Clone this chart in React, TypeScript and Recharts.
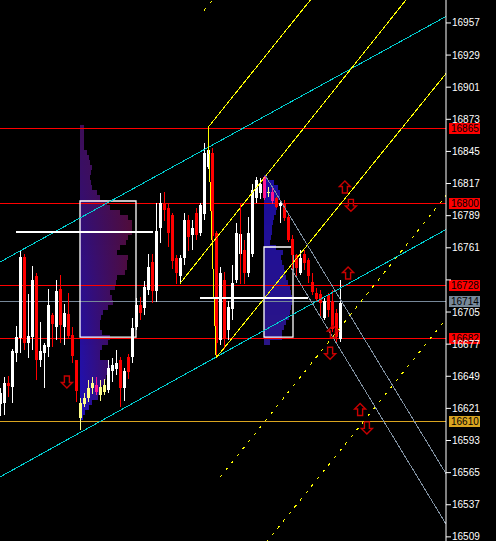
import React from "react";
import { ComposedChart, Bar, Scatter, XAxis, YAxis, ReferenceLine, ReferenceArea } from "recharts";

// OHLC per bar (bar index 0..85)
const opens = [16624,16626,16643,16640,16669,16682,16753,16678,16683,16736, 16663,16669,16674,16702,16692,16725,16692,16703,16685,16663,
  16613,16625,16630,16639,16641,16633,16635,16637,16654,16656, 16663,16639,16666,16666,16692,16711,16709,16724,16749,16724,
  16778,16800,16796,16790,16752,16736,16752,16785,16772,16791, 16774,16791,16831,16844,16774,16681,16733,16689,16707,16733,
  16756,16759,16739,16755,16804,16809,16823,16809,16810,16804, 16797,16800,16788,16769,16755,16739,16756,16750,16731,16722,
  16721,16700,16720,16715,16704,16682]
const closes = [16634,16643,16640,16671,16683,16753,16678,16684,16733,16663, 16671,16676,16711,16694,16723,16694,16704,16684,16667,16636,
  16626,16630,16639,16643,16635,16640,16641,16656,16659,16661, 16639,16654,16653,16691,16711,16704,16727,16744,16724,16776,
  16800,16794,16774,16750,16739,16752,16785,16770,16778,16772, 16798,16844,16846,16772,16678,16739,16682,16709,16730,16774,
  16773,16739,16774,16811,16820,16817,16805,16810,16802,16796, 16800,16787,16768,16755,16744,16752,16748,16736,16722,16717,
  16713,16715,16707,16691,16683,16713]
const highs = [16639,16648,16649,16673,16693,16759,16756,16721,16745,16739, 16696,16678,16725,16704,16733,16737,16712,16722,16692,16663,
  16630,16634,16646,16648,16648,16646,16647,16663,16665,16672, 16666,16656,16668,16700,16717,16718,16732,16756,16756,16800,
  16809,16810,16800,16791,16755,16755,16791,16790,16785,16796, 16800,16852,16852,16848,16776,16744,16740,16715,16746,16783,
  16778,16768,16788,16817,16823,16822,16824,16814,16813,16805, 16802,16803,16791,16772,16756,16759,16759,16752,16739,16726,
  16724,16717,16722,16724,16708,16733]
const lows = [16615,16615,16631,16626,16662,16669,16672,16665,16672,16646, 16657,16639,16666,16674,16681,16678,16676,16683,16661,16626,
  16602,16622,16627,16633,16632,16628,16633,16634,16644,16650, 16622,16627,16646,16661,16689,16698,16702,16720,16713,16714,
  16765,16785,16762,16742,16730,16730,16746,16759,16759,16768, 16771,16785,16829,16768,16666,16676,16673,16681,16698,16731,
  16749,16730,16736,16753,16800,16804,16803,16805,16799,16795, 16783,16785,16766,16742,16736,16737,16742,16730,16720,16714,
  16701,16698,16701,16687,16679,16679]

// bars highlighted by the profile session
const yellowBars = [20, 21, 22, 23, 25, 26, 67]
const pinkBars = [24, 66, 68]

const priceTicks = [16509, 16537, 16565, 16593, 16621, 16649, 16677, 16705, 16733, 16761, 16789, 16817, 16845, 16873, 16901, 16929, 16957]
const hiddenTickLabels = [16733] // covered by the 16728 tag

// horizontal levels
const levels = [16865, 16800, 16728, 16714, 16682, 16610]
const levelColors = ["#ff0000", "#ff0000", "#ff0000", "#778899", "#ff0000", "#daa520"]

// volume profiles: start bar, top price, bin size, volumes (top to bottom)
const leftProfileStart = 19.875
const leftProfileTop = 16868
const rightProfileStart = 65.875
const rightProfileTop = 16824.4
const profileBin = 4.36
const leftProfileVol = [4,4,4,4,4,7,9,10,12,11,10,11,12,17,20,27,30,40,48,52,52,52,48,46,40,37,48,47,47,45,37,36,35,30,32,33,28,23,21,20,20,22,30,28,22,20,20,28,30,27,26,24,22,20,18,12,9,5,3]
const rightProfileVol = [3,10,14,16,16,14,13,12,10,9,8,8,7,6,12,19,17,18,20,21,22,24,26,27,28,28,27,26,25,22,20,18,18,6]

// value area boxes and POC lines
const valueAreas = [
  { x1: 19.875, x2: 33.875, lo: 16683.2, hi: 16801.8 },
  { x1: 65.875, x2: 73.125, lo: 16683.2, hi: 16761.7 },
]
const pocLines = [
  { x1: 3.875, x2: 38.125, p: 16774.7 },
  { x1: 49.875, x2: 76.875, p: 16717.2 },
]

// trend lines [x1, p1, x2, p2]
const cyanLines = [
  [-0.125, 16748.6, 111.4, 16962.7],
  [-0.125, 16561.2, 111.4, 16777],
]
const yellowLines = [
  [51.9, 16866, 80, 16988],
  [51.9, 16866, 53.9, 16665],
  [53.9, 16665, 111.4, 16913],
  [44.9, 16730, 105, 16993],
]
const yellowDashed = [
  [54.9, 16561, 111.4, 16806.6],
  [65, 16498, 111.4, 16699],
  [50.9, 16968, 53.5, 16979],
]
const grayLines = [
  [66.125, 16824.4, 111.4, 16564],
  [72.6, 16743.4, 111.4, 16520],
]
const redSegments = [[59.9, 16800, 59.9, 16729]]

const arrowsUp = [
  { x: 86.1, p: 16814 },
  { x: 86.9, p: 16739 },
  { x: 89.9, p: 16620 },
  { x: 83.1, p: 16688 },
]
const arrowsDown = [
  { x: 87.6, p: 16798 },
  { x: 82.4, p: 16669 },
  { x: 16.6, p: 16644 },
  { x: 91.6, p: 16604 },
]

const candles = opens.map((o, i) => ({ x: i, o, c: closes[i], h: highs[i], l: lows[i] }))

const FONT = "'Liberation Sans Narrow', 'Liberation Sans', Arial, sans-serif"
const HALF_PX = 0.44 // half a pixel in price units

function hex(c: string) {
  return [1, 3, 5].map((k) => parseInt(c.slice(k, k + 2), 16))
}
function mix(a: string, b: string, t: number) {
  const A = hex(a)
  const B = hex(b)
  const r = A.map((v, k) => Math.round(v + (B[k] - v) * t))
  return "#" + r.map((v) => v.toString(16).padStart(2, "0")).join("")
}

function candleColor(i: number, o: number, c: number) {
  if (yellowBars.includes(i)) return "#ffff88"
  if (pinkBars.includes(i)) return "#ff1493"
  return c >= o ? "#ffffff" : "#ff0000"
}

const Candle = (props: any) => {
  const { x, y, width, height, payload } = props
  if (x == null || !payload) return null
  const top = Math.min(y, y + height)
  const bottom = Math.max(y, y + height)
  const span = payload.h - payload.l || 1
  const yOf = (v: number) => top + ((payload.h - v) / span) * (bottom - top)
  const cx = Math.round(x + width / 2 - 0.5)
  const yo = yOf(payload.o)
  const yc = yOf(payload.c)
  const color = candleColor(payload.x, payload.o, payload.c)
  return (
    <g shapeRendering="crispEdges">
      <rect x={cx} y={Math.round(top)} width={1} height={Math.max(1, Math.round(bottom - top))} fill={color} />
      <rect x={cx - 1} y={Math.round(Math.min(yo, yc))} width={3} height={Math.max(1, Math.round(Math.abs(yo - yc)))} fill={color} />
    </g>
  )
}

const Arrow = (dir: "up" | "down") => (props: any) => {
  const { cx, cy } = props
  if (cx == null) return null
  const s = dir === "up" ? 1 : -1
  const d = `M${cx},${cy - 6 * s} L${cx + 5.5},${cy - 0.5 * s} L${cx + 2.5},${cy - 0.5 * s} L${cx + 2.5},${cy + 6 * s} L${cx - 2.5},${cy + 6 * s} L${cx - 2.5},${cy - 0.5 * s} L${cx - 5.5},${cy - 0.5 * s} Z`
  return <path d={d} fill="none" stroke="#c80000" strokeWidth={1.4} />
}

// pixel-snapped line for reference lines
const CrispLine = (p: any) => {
  let { x1, y1, x2, y2 } = p
  if (x1 == null) return null
  const w = Number(p.strokeWidth) || 1
  const snap = (v: number) => (w % 2 === 0 ? Math.round(v) : Math.floor(v) + 0.5)
  if (Math.abs(y1 - y2) < 0.01) {
    y1 = snap(y1)
    y2 = y1
  }
  if (Math.abs(x1 - x2) < 0.01) {
    x1 = snap(x1)
    x2 = x1
  }
  return (
    <line
      x1={x1}
      y1={y1}
      x2={x2}
      y2={y2}
      stroke={p.stroke}
      strokeWidth={w}
      strokeDasharray={p.strokeDasharray}
      clipPath={p.clipPath}
      shapeRendering="crispEdges"
    />
  )
}

const LevelTag = ({ viewBox, text, color }: any) => {
  if (!viewBox) return null
  const left = viewBox.x + viewBox.width + 3
  const yy = Math.floor(viewBox.y)
  return (
    <g>
      <rect x={left} y={yy - 5} width={31} height={11} fill={color} shapeRendering="crispEdges" />
      <text x={left + 2} y={yy + 4} fontSize={10} fill="#000" fontFamily={FONT}>
        {text}
      </text>
    </g>
  )
}

const PriceTick = (props: any) => {
  const { x, y, payload } = props
  if (hiddenTickLabels.includes(payload.value)) return null
  return (
    <text x={x} y={y} dy="0.355em" fontSize={10} fill="#fff" fontFamily={FONT} textAnchor="start">
      {payload.value}
    </text>
  )
}

function seg(l: number[]) {
  return [{ x: l[0], y: l[1] }, { x: l[2], y: l[3] }] as any
}

export default function App() {
  const leftMax = Math.max(...leftProfileVol)
  return (
    <div style={{ position: "absolute", left: 0, top: 0, width: 496, height: 541, background: "#000" }}>
      <ComposedChart width={496} height={541} data={candles} margin={{ top: 0, right: 0, bottom: 0, left: 0 }}>
        <defs>
          {leftProfileVol.map((v, k) => {
            const lc = mix("#3d0e58", "#1d10b8", k / (leftProfileVol.length - 1))
            return (
              <linearGradient key={"lg" + k} id={"lp" + k} x1="0" x2="1" y1="0" y2="0">
                <stop offset="0%" stopColor={lc} />
                <stop offset="100%" stopColor={mix(lc, "#500c3a", v / leftMax)} />
              </linearGradient>
            )
          })}
        </defs>
        <XAxis dataKey="x" type="number" domain={[-0.125, 111.375]} hide allowDataOverflow />
        <YAxis
          orientation="right"
          width={50}
          type="number"
          domain={[16505.4, 16977]}
          ticks={priceTicks}
          interval={0}
          allowDataOverflow
          axisLine={{ stroke: "#fff" }}
          tickLine={{ stroke: "#fff" }}
          tickSize={5}
          tickMargin={1}
          tick={PriceTick}
        />

        {leftProfileVol.map((v, k) => (
          <ReferenceArea
            key={"la" + k}
            x1={leftProfileStart}
            x2={leftProfileStart + v / 4}
            y1={leftProfileTop - (k + 1) * profileBin}
            y2={leftProfileTop - k * profileBin}
            fill={`url(#lp${k})`}
            fillOpacity={1}
            stroke="none"
            ifOverflow="visible"
            shapeRendering="crispEdges"
          />
        ))}
        {rightProfileVol.map((v, k) => (
          <ReferenceArea
            key={"ra" + k}
            x1={rightProfileStart}
            x2={rightProfileStart + v / 4}
            y1={rightProfileTop - (k + 1) * profileBin}
            y2={rightProfileTop - k * profileBin}
            fill={mix("#1a0ca0", "#2a1586", k / (rightProfileVol.length - 1))}
            fillOpacity={1}
            stroke="none"
            ifOverflow="visible"
            shapeRendering="crispEdges"
          />
        ))}

        {levels.map((p, k) => (
          <ReferenceArea
            key={"lvl" + k}
            y1={p - HALF_PX}
            y2={p + HALF_PX}
            fill={levelColors[k]}
            fillOpacity={1}
            stroke="none"
            ifOverflow="visible"
            shapeRendering="crispEdges"
          />
        ))}

        {cyanLines.map((l, k) => (
          <ReferenceLine key={"cy" + k} segment={seg(l)} stroke="#00ced1" strokeWidth={1} ifOverflow="hidden" shape={CrispLine} />
        ))}
        {yellowLines.map((l, k) => (
          <ReferenceLine key={"yl" + k} segment={seg(l)} stroke="#ffff00" strokeWidth={1} ifOverflow="hidden" shape={CrispLine} />
        ))}
        {yellowDashed.map((l, k) => (
          <ReferenceLine key={"yd" + k} segment={seg(l)} stroke="#ffff00" strokeWidth={1} strokeDasharray="3 6" ifOverflow="hidden" shape={CrispLine} />
        ))}
        {grayLines.map((l, k) => (
          <ReferenceLine key={"gr" + k} segment={seg(l)} stroke="#8090a0" strokeWidth={1} ifOverflow="hidden" shape={CrispLine} />
        ))}
        {redSegments.map((l, k) => (
          <ReferenceLine key={"rs" + k} segment={seg(l)} stroke="#ff0000" strokeWidth={1} ifOverflow="hidden" shape={CrispLine} />
        ))}

        {valueAreas.map((a, k) => (
          <ReferenceArea
            key={"va" + k}
            x1={a.x1}
            x2={a.x2}
            y1={a.lo}
            y2={a.hi}
            fill="none"
            stroke="#ffffff"
            strokeWidth={1.3}
            ifOverflow="visible"
          />
        ))}
        {pocLines.map((l, k) => (
          <ReferenceLine
            key={"poc" + k}
            segment={[{ x: l.x1, y: l.p }, { x: l.x2, y: l.p }]}
            stroke="#ffffff"
            strokeWidth={2}
            ifOverflow="visible"
            shape={CrispLine}
          />
        ))}

        {levels.map((p, k) => (
          <ReferenceLine
            key={"lv" + k}
            y={p}
            stroke="none"
            strokeWidth={0}
            label={{ content: (lp: any) => <LevelTag viewBox={lp.viewBox} text={String(p)} color={levelColors[k]} /> }}
          />
        ))}

        <Bar dataKey={(d: any) => [d.l, d.h]} barSize={3} shape={Candle} isAnimationActive={false} />

        <Scatter data={arrowsUp} dataKey="p" shape={Arrow("up")} isAnimationActive={false} />
        <Scatter data={arrowsDown} dataKey="p" shape={Arrow("down")} isAnimationActive={false} />
      </ComposedChart>
    </div>
  )
}
